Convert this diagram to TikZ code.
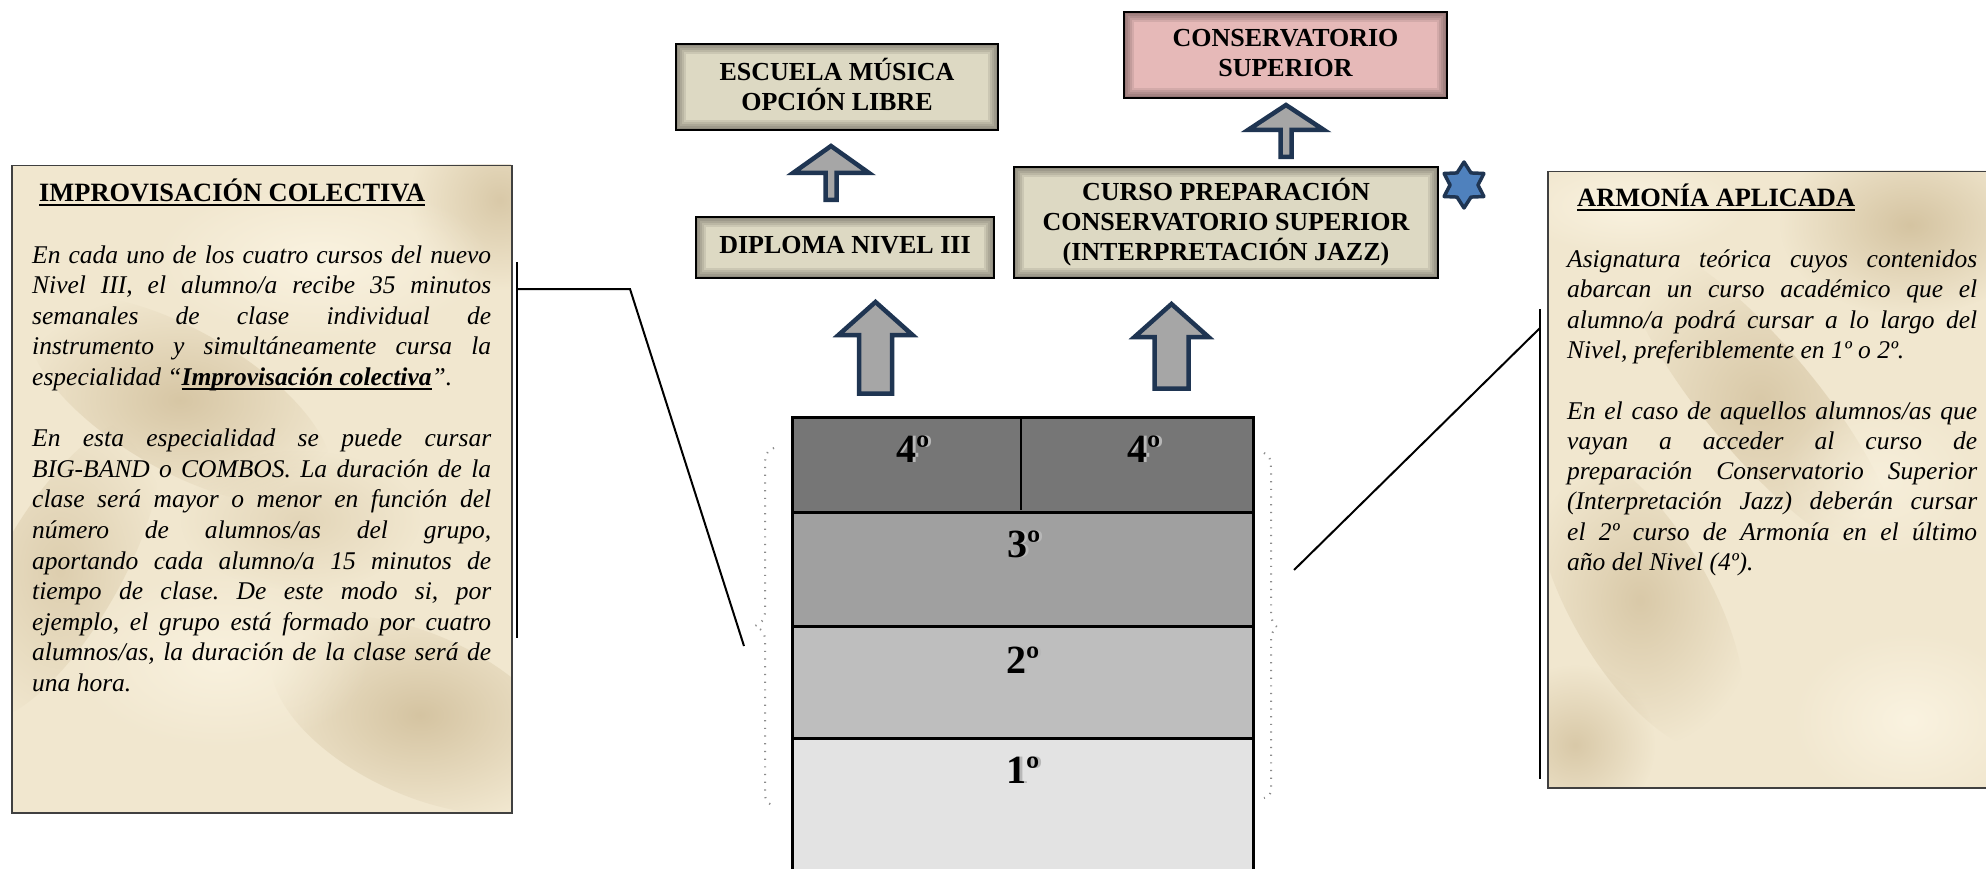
\documentclass[tikz,border=0pt]{standalone}
\usepackage{fontspec}
\setmainfont{Liberation Serif}
\usetikzlibrary{shapes.geometric,fadings}
\tikzfading[name=softblob, inner color=transparent!0, outer color=transparent!100]
\definecolor{boxfill}{HTML}{DDD9C3}
\definecolor{pinkfill}{HTML}{E6B9B8}
\definecolor{navy}{HTML}{1F3552}
\definecolor{arrfill}{HTML}{A6A6A6}
\definecolor{parch}{HTML}{F1E7CF}
\definecolor{parchlight}{HTML}{FBF4E2}
\definecolor{parchdark}{HTML}{C9B58E}
\definecolor{rowfour}{HTML}{767676}
\definecolor{rowthree}{HTML}{A0A0A0}
\definecolor{rowtwo}{HTML}{BEBEBE}
\definecolor{rowone}{HTML}{E3E3E3}
\definecolor{starfill}{HTML}{4F81BD}
\newcommand\myul[1]{\setbox0\hbox{#1}\rlap{\rule[-4pt]{\wd0}{1.6pt}}\box0}
\newcommand\embos[1]{\makebox[0pt][l]{\hspace{3pt}\textcolor{black!28}{#1}}#1}
\tolerance=10000
\hbadness=10000
\hyphenpenalty=10000
\frenchspacing
\begin{document}
\begin{tikzpicture}[x=1pt,y=-1pt,
  titlebox/.style={draw=black, line width=2, fill=boxfill, inner sep=0, align=center,
    anchor=north west, font=\fontsize{26}{30}\selectfont\bfseries,
    path picture={\foreach \w in {4,8,12,16,20}
      \draw[black,opacity=0.08,line width=\w] (path picture bounding box.south west) rectangle (path picture bounding box.north east);}},
  sidebox/.style={draw=black!75, line width=1.5, inner sep=0, anchor=north west},
  sidetext/.style={inner sep=0, align=justify, anchor=base west},
  rowbox/.style={draw=black, line width=2.5, inner sep=0, anchor=north west},
  numlab/.style={inner sep=0, anchor=base, font=\fontsize{40}{40}\selectfont\bfseries},
  blockarrow/.style={fill=arrfill, draw=navy, line width=4.5, line join=miter},
  callout/.style={draw=black, line width=2},
  divider/.style={draw=black, line width=1.3},
  brace/.style={draw=black!45, line width=2, dash pattern=on 1.2pt off 6.5pt},
  blob/.style={path fading=softblob}
]
\fill[white] (0,0) rectangle (1986,869);
\useasboundingbox (0,0) rectangle (1986,869);

% ---------- left side box ----------
\begin{scope}
  \clip (11,165) rectangle (511,812);
  \fill[parch] (11,165) rectangle (511,812);
  \begin{scope}[shift={(180,400)}, rotate=-30]
    \fill[parchdark, opacity=0.65, blob] (0,0) ellipse (170 and 70);
  \end{scope}
  \begin{scope}[shift={(60,570)}, rotate=60]
    \fill[parchdark, opacity=0.5, blob] (0,0) ellipse (170 and 60);
  \end{scope}
  \begin{scope}[shift={(420,715)}, rotate=-25]
    \fill[parchdark, opacity=0.7, blob] (0,0) ellipse (160 and 80);
  \end{scope}
  \fill[parchdark, opacity=0.6, blob] (500,200) ellipse (90 and 90);
  \fill[parchdark, opacity=0.35, blob] (300,520) ellipse (120 and 70);
  \fill[parchlight, opacity=0.9, blob] (320,260) ellipse (170 and 80);
  \fill[parchlight, opacity=0.8, blob] (220,660) ellipse (150 and 90);
\end{scope}
\node[sidebox, minimum width=500, minimum height=647] (impbox) at (11,165) {};

% ---------- right side box ----------
\begin{scope}
  \clip (1547,171) rectangle (2010,787);
  \fill[parch] (1547,171) rectangle (2010,787);
  \fill[parchdark, opacity=0.7, blob] (1910,225) ellipse (130 and 90);
  \begin{scope}[shift={(1760,400)}, rotate=-50]
    \fill[parchdark, opacity=0.6, blob] (0,0) ellipse (200 and 55);
  \end{scope}
  \begin{scope}[shift={(1640,600)}, rotate=-60]
    \fill[parchdark, opacity=0.6, blob] (0,0) ellipse (170 and 70);
  \end{scope}
  \fill[parchdark, opacity=0.6, blob] (1575,745) ellipse (80 and 80);
  \fill[parchlight, opacity=0.9, blob] (1630,205) ellipse (120 and 50);
  \fill[parchlight, opacity=0.9, blob] (1910,720) ellipse (120 and 90);
  \fill[parchlight, opacity=0.6, blob] (1880,480) ellipse (100 and 80);
\end{scope}
\node[sidebox, minimum width=463, minimum height=616] (armbox) at (1547,171) {};

% ---------- side texts ----------
\node[sidetext, text width=459, font=\fontsize{25.5}{30.6}\selectfont] (imptext) at (32,202) {%
\hspace*{7pt}{\fontsize{26.4}{30.6}\selectfont\bfseries\myul{IMPROVISACIÓN COLECTIVA}}\par\vspace{30.6pt}
\itshape En cada uno de los cuatro cursos del nuevo\linebreak
Nivel III, el alumno/a recibe 35 minutos\linebreak
semanales de clase individual de\linebreak
instrumento y simultáneamente cursa la\linebreak
especialidad “\myul{\bfseries Improvisación colectiva}”.\par\vspace{30.6pt}
En esta especialidad se puede cursar\linebreak
BIG-BAND o COMBOS. La duración de la\linebreak
clase será mayor o menor en función del\linebreak
número de alumnos/as del grupo,\linebreak
aportando cada alumno/a 15 minutos de\linebreak
tiempo de clase. De este modo si, por\linebreak
ejemplo, el grupo está formado por cuatro\linebreak
alumnos/as, la duración de la clase será de\linebreak
una hora.};

\node[sidetext, text width=410, font=\fontsize{25.5}{30.3}\selectfont] (armtext) at (1567,207) {%
\hspace*{10pt}{\fontsize{26.4}{30.3}\selectfont\bfseries\myul{ARMONÍA APLICADA}}\par\vspace{30.3pt}
\itshape Asignatura teórica cuyos contenidos\linebreak
abarcan un curso académico que el\linebreak
alumno/a podrá cursar a lo largo del\linebreak
Nivel, preferiblemente en 1º o 2º.\par\vspace{30.3pt}
En el caso de aquellos alumnos/as que\linebreak
vayan a acceder al curso de\linebreak
preparación Conservatorio Superior\linebreak
(Interpretación Jazz) deberán cursar\linebreak
el 2º curso de Armonía en el último\linebreak
año del Nivel (4º).};

% ---------- callout lines ----------
\coordinate (lbarT) at (517,262);
\coordinate (lbarB) at (517,638);
\coordinate (ljoin) at (517,289);
\coordinate (lelbow) at (630,289);
\coordinate (lend) at (744,646);
\draw[callout] (lbarT) -- (lbarB);
\draw[callout] (ljoin) -- (lelbow) -- (lend);
\coordinate (rbarT) at (1540,309);
\coordinate (rbarB) at (1540,779);
\coordinate (rjoin) at (1540,328);
\coordinate (rend) at (1294,570);
\draw[callout] (rbarT) -- (rbarB);
\draw[callout] (rjoin) -- (rend);

% ---------- title boxes ----------
\node[titlebox, minimum width=322, minimum height=86] (esc) at (675,43) {ESCUELA MÚSICA\\OPCIÓN LIBRE\rule[-6pt]{0pt}{0pt}};
\node[titlebox, fill=pinkfill, minimum width=323, minimum height=86] (cons) at (1123,11) {CONSERVATORIO\\SUPERIOR\rule[-4pt]{0pt}{0pt}};
\node[titlebox, minimum width=298, minimum height=61] (dip) at (695,216) {DIPLOMA NIVEL III\rule[-6pt]{0pt}{0pt}};
\node[titlebox, minimum width=424, minimum height=111] (cur) at (1013,166) {CURSO PREPARACIÓN\\CONSERVATORIO SUPERIOR\\(INTERPRETACIÓN JAZZ)};

% star
\node[star, star points=6, star point ratio=1.65, minimum size=46, inner sep=0,
      fill=starfill, draw=navy, line width=3.5, line join=round] (star) at (1464,185) {};

% ---------- block arrows ----------
\draw[blockarrow] (831,146) -- (869,173) -- (836.5,173) -- (836.5,200) -- (825.5,200) -- (825.5,173) -- (793,173) -- cycle;
\draw[blockarrow] (1286,105) -- (1324,130) -- (1291.5,130) -- (1291.5,157) -- (1280.5,157) -- (1280.5,130) -- (1248,130) -- cycle;
\draw[blockarrow] (875.5,302) -- (912.5,335) -- (892,335) -- (892,393.5) -- (859,393.5) -- (859,335) -- (838.5,335) -- cycle;
\draw[blockarrow] (1171.5,304) -- (1208.5,337) -- (1188.5,337) -- (1188.5,388.5) -- (1154.5,388.5) -- (1154.5,337) -- (1134.5,337) -- cycle;

% ---------- stack ----------
\node[rowbox, fill=rowone, minimum width=461, minimum height=145] (r1) at (791,737) {};
\node[rowbox, fill=rowtwo, minimum width=461, minimum height=112] (r2) at (791,625) {};
\node[rowbox, fill=rowthree, minimum width=461, minimum height=114] (r3) at (791,511) {};
\node[rowbox, fill=rowfour, minimum width=461, minimum height=95] (r4) at (791,416) {};
\coordinate (splitT) at (1021,417);
\coordinate (splitB) at (1021,510);
\draw[divider] (splitT) -- (splitB);

\node[numlab] (l4a) at (913,462) {\embos{4º}};
\node[numlab] (l4b) at (1144,462) {\embos{4º}};
\node[numlab] (l3) at (1024,557) {\embos{3º}};
\node[numlab] (l2) at (1023,673) {\embos{2º}};
\node[numlab] (l1) at (1023,783) {\embos{1º}};

% ---------- dotted braces ----------
\draw[brace] (774,448) .. controls (766,450) and (765,456) .. (765,466) -- (765,612)
  .. controls (765,620) and (760,624) .. (755,626) .. controls (760,628) and (765,632) .. (765,640)
  -- (765,792) .. controls (765,800) and (767,803) .. (772,805);
\draw[brace] (1264,453) .. controls (1270,455) and (1271,461) .. (1271,470) -- (1271,613)
  .. controls (1271,621) and (1274,625) .. (1277,627) .. controls (1274,629) and (1271,633) .. (1271,641)
  -- (1271,788) .. controls (1271,795) and (1269,797) .. (1264,798);
\end{tikzpicture}
\end{document}
